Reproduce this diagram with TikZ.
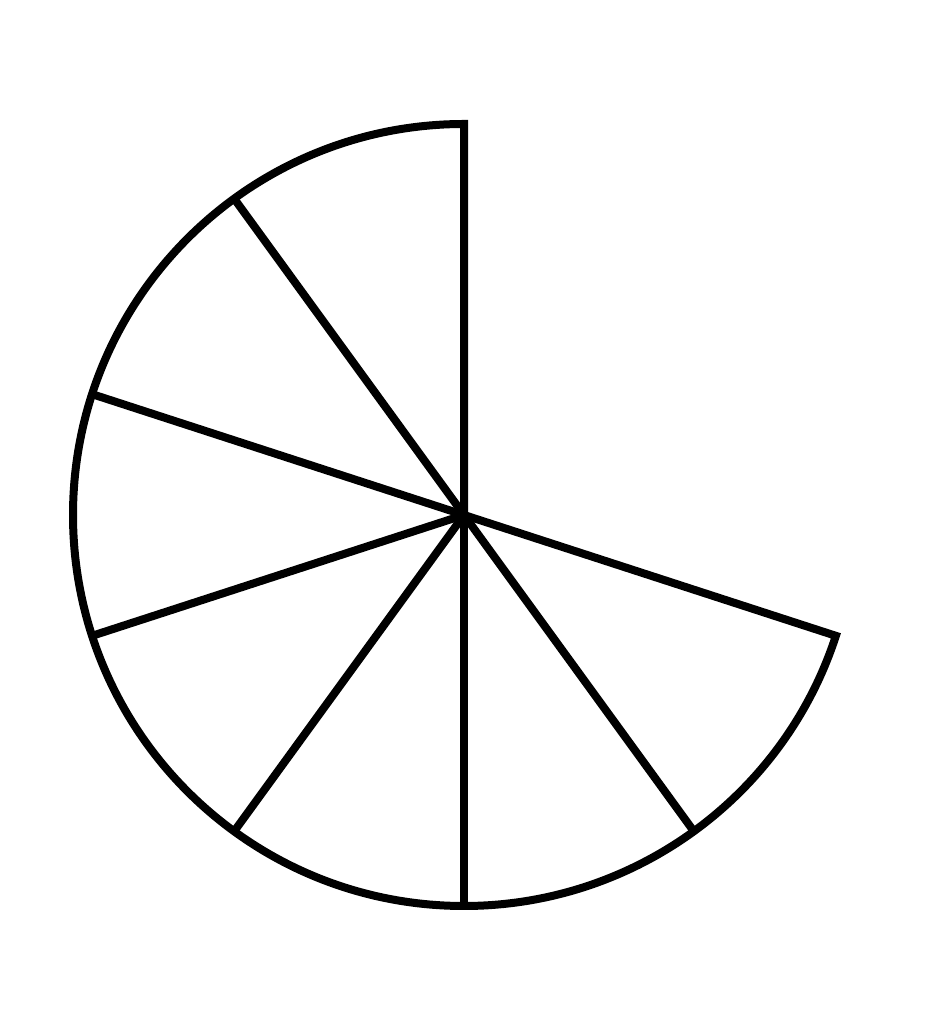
\documentclass[tikz,border=0pt]{standalone}
\usetikzlibrary{calc}
\begin{document}
\begin{tikzpicture}[x=0.1mm,y=0.1mm,
  edge/.style={line width=0.8mm,black,line join=miter}]
\useasboundingbox (0,0) rectangle (937,1024);
\coordinate (c) at (464,509);
\def\R{391}
\draw[edge] (c) -- ++(90:\R) arc[start angle=90,end angle=342,radius=\R] -- cycle;
\foreach \a in {126,162,198,234,270,306}{
  \coordinate (p\a) at ($(c)+(\a:\R)$);
}
\foreach \a in {126,162,198,234,270,306}{
  \draw[edge] (c) -- (p\a);
}
\end{tikzpicture}
\end{document}
